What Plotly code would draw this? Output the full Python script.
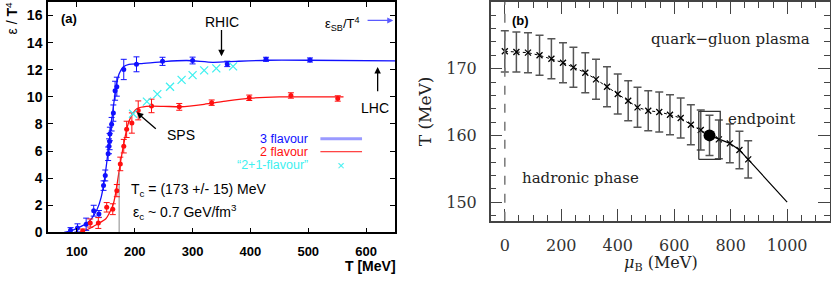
import plotly.graph_objects as go

# ---------------- Panel (a): energy density ----------------
blue_T = [89, 101, 116, 129, 138, 146, 149, 154, 155.5, 156.5, 157, 160, 163, 166, 169, 181, 203, 248, 300, 360, 427, 503]
blue_e = [0.15, 0.33, 0.6, 1.6, 1.36, 3.45, 4.2, 5.8, 6.35, 6.7, 7.26, 7.98, 8.8, 10.45, 10.75, 12.02, 12.4, 12.62, 12.68, 12.43, 12.77, 12.72]
blue_err = [0.2, 0.3, 0.45, 0.4, 0.25, 0.35, 0.4, 0.5, 0.55, 0.6, 0.5, 0.5, 0.6, 0.7, 0.7, 0.75, 0.55, 0.3, 0.25, 0.2, 0.15, 0.15]

blue_curve_T = [78, 90, 100, 115, 125, 135, 142, 148, 152, 156, 160, 164, 168, 173, 180, 190, 210, 250, 290, 335, 375, 430, 500, 650]
blue_curve_e = [0.0, 0.12, 0.3, 0.62, 1.0, 1.7, 2.6, 4.0, 5.3, 6.8, 8.2, 9.6, 10.8, 11.7, 12.2, 12.4, 12.45, 12.6, 12.68, 12.55, 12.62, 12.7, 12.7, 12.65]

red_T = [110, 123, 137, 151.5, 162, 169, 175, 181, 186, 195, 206, 229, 277, 333, 398, 470, 551]
red_e = [0.1, 0.69, 0.69, 1.85, 1.71, 3.08, 5.05, 6.36, 7.6, 8.07, 9.0, 9.33, 9.26, 9.57, 9.93, 10.1, 9.88]
red_err = [0.15, 0.3, 0.4, 0.35, 0.4, 0.45, 0.5, 0.5, 0.6, 0.75, 0.7, 0.5, 0.25, 0.2, 0.2, 0.2, 0.2]

red_curve_T = [105, 120, 135, 150, 157, 163, 167, 170, 175, 180, 185, 190, 197, 205, 220, 250, 280, 320, 360, 400, 450, 500, 561]
red_curve_e = [0.0, 0.25, 0.6, 1.0, 1.5, 2.1, 2.9, 3.7, 5.1, 6.3, 7.4, 8.2, 8.8, 9.15, 9.3, 9.3, 9.27, 9.45, 9.7, 9.9, 10.0, 10.0, 10.0]

cyan_T = [197, 221, 239, 261, 281, 300, 320, 341, 370]
cyan_e = [8.75, 9.65, 10.2, 10.75, 11.25, 11.6, 11.95, 12.1, 12.25]

Tc = 173
Tc_line_top = 4.4

a_xticks = [100, 200, 300, 400, 500, 600]
a_yticks = [0, 2, 4, 6, 8, 10, 12, 14, 16]

# ---------------- Panel (b): phase diagram ----------------
mu_pts = [0, 41, 82, 123, 165, 206, 243, 285, 323, 362, 400, 437, 470, 508, 547, 585, 623, 659, 694, 725, 758, 797, 831, 862]
T_pts = [172.6, 172.5, 172.4, 172.0, 171.5, 170.9, 170.2, 169.4, 168.4, 167.3, 166.2, 165.2, 164.2, 163.7, 163.5, 163.1, 162.6, 161.6, 160.8, 160.0, 159.4, 158.8, 157.8, 156.4]
T_err = [3.1, 3.0, 3.0, 3.0, 3.0, 3.0, 3.0, 3.0, 3.0, 3.0, 3.0, 3.0, 3.0, 3.0, 3.0, 3.0, 3.0, 3.0, 3.0, 3.0, 2.9, 2.9, 2.8, 2.8]
endpoint_index = 19
endpoint_mu = 725
endpoint_T = 160.0
endpoint_dmu = 38
endpoint_dT = 3.6
line_end_mu = 1000
line_end_T = 150

b_xticks = [0, 200, 400, 600, 800, 1000]
b_yticks = [150, 160, 170]

W, H = 831, 282
BLUE = '#1010ff'
RED = '#ff1010'
CYAN = '#40f0f0'
SANS = 'Liberation Sans'
SERIF = 'DejaVu Serif'


def px(x):
    return x / W


def py(y):
    return 1 - y / H


fig = go.Figure()

# panel (a) curves
fig.add_trace(go.Scatter(x=blue_curve_T, y=blue_curve_e, mode='lines',
                         line=dict(color=BLUE, width=1.3, shape='spline', smoothing=0.6),
                         xaxis='x', yaxis='y', hoverinfo='skip'))
fig.add_trace(go.Scatter(x=red_curve_T, y=red_curve_e, mode='lines',
                         line=dict(color=RED, width=1.3, shape='spline', smoothing=0.6),
                         xaxis='x', yaxis='y', hoverinfo='skip'))
fig.add_trace(go.Scatter(x=[Tc, Tc], y=[0, Tc_line_top], mode='lines',
                         line=dict(color='#888888', width=1), xaxis='x', yaxis='y'))
fig.add_trace(go.Scatter(x=blue_T, y=blue_e, mode='markers',
                         marker=dict(color=BLUE, size=5, symbol='circle'),
                         error_y=dict(type='data', array=blue_err, color=BLUE, thickness=1, width=3),
                         xaxis='x', yaxis='y'))
fig.add_trace(go.Scatter(x=red_T, y=red_e, mode='markers',
                         marker=dict(color=RED, size=5, symbol='circle'),
                         error_y=dict(type='data', array=red_err, color=RED, thickness=1, width=3),
                         xaxis='x', yaxis='y'))
fig.add_trace(go.Scatter(x=cyan_T, y=cyan_e, mode='markers',
                         marker=dict(color=CYAN, size=8, symbol='x-thin', line=dict(color=CYAN, width=1.3)),
                         xaxis='x', yaxis='y'))

# panel (b)
fig.add_trace(go.Scatter(x=mu_pts[:endpoint_index + 1], y=T_pts[:endpoint_index + 1], mode='lines',
                         line=dict(color='black', width=1, dash='dot'), xaxis='x2', yaxis='y2'))
fig.add_trace(go.Scatter(x=mu_pts[endpoint_index:] + [line_end_mu], y=T_pts[endpoint_index:] + [line_end_T],
                         mode='lines', line=dict(color='black', width=1.2), xaxis='x2', yaxis='y2'))
fig.add_trace(go.Scatter(x=mu_pts, y=T_pts, mode='markers',
                         marker=dict(color='black', size=6, symbol='x-thin', line=dict(color='black', width=1.3)),
                         error_y=dict(type='data', array=T_err, color='#555555', thickness=1.5, width=4),
                         xaxis='x2', yaxis='y2'))
box_x = [endpoint_mu - endpoint_dmu, endpoint_mu + endpoint_dmu, endpoint_mu + endpoint_dmu,
         endpoint_mu - endpoint_dmu, endpoint_mu - endpoint_dmu]
box_y = [endpoint_T - endpoint_dT, endpoint_T - endpoint_dT, endpoint_T + endpoint_dT,
         endpoint_T + endpoint_dT, endpoint_T - endpoint_dT]
fig.add_trace(go.Scatter(x=box_x, y=box_y, mode='lines', line=dict(color='#333333', width=1.3),
                         xaxis='x2', yaxis='y2'))
fig.add_trace(go.Scatter(x=[endpoint_mu], y=[endpoint_T], mode='markers',
                         marker=dict(color='black', size=12, symbol='circle'), xaxis='x2', yaxis='y2'))

# vertical dashed line at mu_B = 0
fig.add_shape(type='line', xref='x2', yref='y2 domain', x0=0, x1=0, y0=0, y1=1,
              line=dict(color='#777777', width=1.5, dash='dash'))

ann = []
# panel (a) texts
ann.append(dict(xref='x', yref='y', x=69, y=15.76, text='<b>(a)</b>', showarrow=False, xanchor='left',
                font=dict(family=SANS, size=13, color='black')))
ann.append(dict(xref='x', yref='y', x=350, y=15.5, text='RHIC', showarrow=False,
                font=dict(family=SANS, size=14, color='black')))
ann.append(dict(xref='x', yref='y', x=350, y=13.0, ax=350, ay=15.05, axref='x', ayref='y', text='',
                showarrow=True, arrowhead=2, arrowsize=1, arrowwidth=1.3, arrowcolor='black'))
ann.append(dict(xref='x', yref='y', x=560, y=15.4, text='ε<sub>SB</sub>/T<sup>4</sup>', showarrow=False,
                font=dict(family=SANS, size=13, color='black')))
ann.append(dict(xref='x', yref='y', x=647, y=15.64, ax=600, ay=15.64, axref='x', ayref='y', text='',
                showarrow=True, arrowhead=2, arrowsize=1, arrowwidth=1.2, arrowcolor='#5a5aff'))
ann.append(dict(xref='x', yref='y', x=616, y=9.2, text='LHC', showarrow=False,
                font=dict(family=SANS, size=14, color='black')))
ann.append(dict(xref='x', yref='y', x=620, y=12.2, ax=620, ay=10.3, axref='x', ayref='y', text='',
                showarrow=True, arrowhead=2, arrowsize=1, arrowwidth=1.3, arrowcolor='black'))
ann.append(dict(xref='x', yref='y', x=280, y=7.2, text='SPS', showarrow=False,
                font=dict(family=SANS, size=14, color='black')))
ann.append(dict(xref='x', yref='y', x=203.5, y=8.86, ax=239, ay=7.55, axref='x', ayref='y', text='',
                showarrow=True, arrowhead=2, arrowsize=1, arrowwidth=1.3, arrowcolor='black'))
# legend
leg_y = [6.9, 5.95, 4.95]
ann.append(dict(xref='x', yref='y', x=503, y=leg_y[0], text='3 flavour', showarrow=False, xanchor='right',
                font=dict(family=SANS, size=12.5, color=BLUE)))
ann.append(dict(xref='x', yref='y', x=503, y=leg_y[1], text='2 flavour', showarrow=False, xanchor='right',
                font=dict(family=SANS, size=12.5, color=RED)))
ann.append(dict(xref='x', yref='y', x=503, y=leg_y[2], text='“2+1-flavour”', showarrow=False, xanchor='right',
                font=dict(family=SANS, size=12.5, color=CYAN)))
ann.append(dict(xref='x', yref='y', x=557, y=leg_y[2], text='×', showarrow=False,
                font=dict(family=SANS, size=13, color=CYAN)))
fig.add_shape(type='line', xref='x', yref='y', x0=521, x1=593, y0=leg_y[0], y1=leg_y[0],
              line=dict(color='#9a9aff', width=3))
fig.add_shape(type='line', xref='x', yref='y', x0=521, x1=593, y0=leg_y[1], y1=leg_y[1],
              line=dict(color=RED, width=1))
ann.append(dict(xref='x', yref='y', x=190.5, y=3.14, text='T<sub>c</sub> = (173 +/- 15) MeV', showarrow=False,
                xanchor='left', font=dict(family=SANS, size=14, color='black')))
ann.append(dict(xref='x', yref='y', x=193.5, y=1.48, text='ε<sub>c</sub> ~ 0.7 GeV/fm<sup>3</sup>', showarrow=False,
                xanchor='left', font=dict(family=SANS, size=14, color='black')))
# axis titles panel (a)
ann.append(dict(xref='paper', yref='paper', x=px(12), y=py(18), text='ε / <b>T</b><sup>4</sup>',
                textangle=-90, showarrow=False, xanchor='center', yanchor='middle',
                font=dict(family=SANS, size=14, color='black')))
ann.append(dict(xref='paper', yref='paper', x=px(398), y=py(274), text='<b>T [MeV]</b>', xanchor='right',
                yanchor='middle', showarrow=False, font=dict(family=SANS, size=14, color='black')))

# panel (b) texts
ann.append(dict(xref='x2', yref='y2', x=20, y=177.2, text='<b>(b)</b>', showarrow=False, xanchor='left',
                font=dict(family=SANS, size=13, color='black')))
ann.append(dict(xref='x2', yref='y2', x=800, y=174.45, text='quark−gluon plasma', showarrow=False,
                font=dict(family=SERIF, size=15, color='#222222')))
ann.append(dict(xref='x2', yref='y2', x=783, y=162.5, text='endpoint', showarrow=False, xanchor='left',
                font=dict(family=SERIF, size=15, color='#222222')))
ann.append(dict(xref='x2', yref='y2', x=53, y=153.6, text='hadronic phase', showarrow=False, xanchor='left',
                font=dict(family=SERIF, size=15, color='#222222')))
ann.append(dict(xref='paper', yref='paper', x=px(661), y=py(271), text='<i>μ</i><sub>B</sub> (MeV)',
                xanchor='center', yanchor='middle',
                showarrow=False, font=dict(family=SERIF, size=16, color='#222222')))
ann.append(dict(xref='paper', yref='paper', x=px(425), y=py(114), text='T (MeV)', textangle=-90,
                xanchor='center', yanchor='middle',
                showarrow=False, font=dict(family=SERIF, size=17, color='#222222')))

fig.update_layout(
    width=W, height=H, autosize=False, margin=dict(l=0, r=0, t=0, b=0),
    paper_bgcolor='white', plot_bgcolor='white', showlegend=False,
    annotations=ann,
    xaxis=dict(domain=[px(48), px(395)], range=[50, 650], tickvals=a_xticks, anchor='y',
               ticks='inside', ticklen=5, tickwidth=1, tickcolor='black', showline=True, linecolor='black',
               linewidth=1.5, mirror='ticks', showgrid=False, zeroline=False, ticklabelstandoff=6,
               tickfont=dict(family=SANS, size=13, color='black', weight='bold')),
    yaxis=dict(domain=[py(239), py(1)], range=[0, 17], tickvals=a_yticks, anchor='x',
               ticks='inside', ticklen=5, tickwidth=1, tickcolor='black', showline=True, linecolor='black',
               linewidth=1.5, mirror='ticks', showgrid=False, zeroline=False, ticklabelstandoff=1,
               tickfont=dict(family=SANS, size=14, color='black', weight='bold')),
    xaxis2=dict(domain=[px(490.7), px(829.5)], range=[-50, 1150], tickvals=b_xticks, anchor='y2',
                ticks='inside', ticklen=12, tickwidth=1.3, tickcolor='#444444', showline=True, linecolor='#444444',
                linewidth=1.5, mirror='ticks', showgrid=False, zeroline=False, ticklabelstandoff=9,
                minor=dict(dtick=50, tick0=0, ticks='inside', ticklen=6, tickwidth=1.3, tickcolor='#444444',
                           showgrid=False),
                tickfont=dict(family=SERIF, size=16, color='#333333')),
    yaxis2=dict(domain=[py(227), py(1)], range=[147.2, 180], tickvals=b_yticks, anchor='x2',
                ticks='inside', ticklen=12, tickwidth=1.3, tickcolor='#444444', showline=True, linecolor='#444444',
                linewidth=1.5, mirror='ticks', showgrid=False, zeroline=False, ticklabelstandoff=9,
                minor=dict(dtick=2, tick0=0, ticks='inside', ticklen=6, tickwidth=1.3, tickcolor='#444444',
                           showgrid=False),
                tickfont=dict(family=SERIF, size=16, color='#333333')),
)

fig.write_html('out.html', config={'responsive': False, 'displayModeBar': False},
               post_script="document.body.style.margin='0';")
